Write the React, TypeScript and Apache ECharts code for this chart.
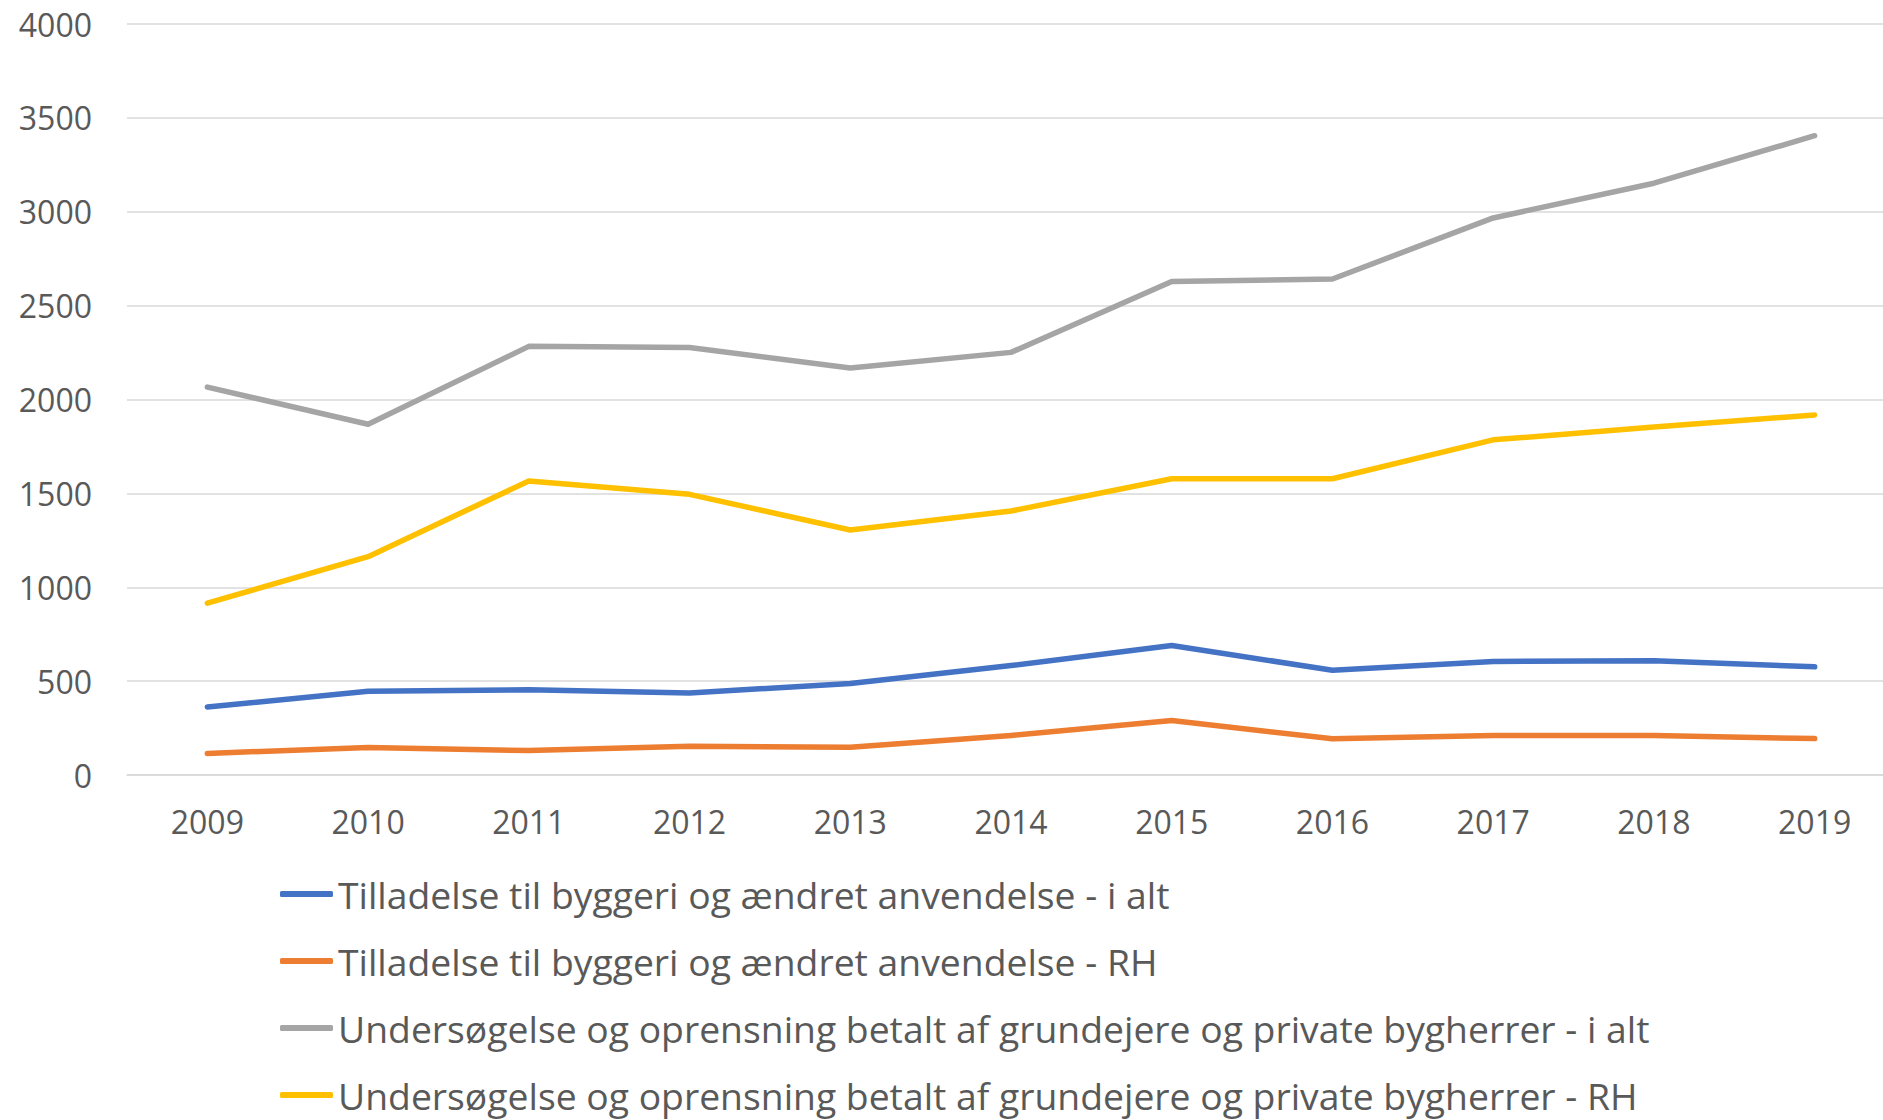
import React, { useEffect, useRef } from "react";
import * as echarts from "echarts";

const years = ["2009", "2010", "2011", "2012", "2013", "2014", "2015", "2016", "2017", "2018", "2019"];
const seriesNames = [
  "Tilladelse til byggeri og ændret anvendelse - i alt",
  "Tilladelse til byggeri og ændret anvendelse - RH",
  "Undersøgelse og oprensning betalt af grundejere og private bygherrer - i alt",
  "Undersøgelse og oprensning betalt af grundejere og private bygherrer - RH",
];
const tilladelseIAlt = [362, 446, 454, 437, 487, 583, 690, 558, 605, 608, 576];
const tilladelseRH = [115, 147, 130, 153, 148, 211, 290, 193, 210, 210, 194];
const undersoegelseIAlt = [2066, 1868, 2283, 2277, 2168, 2251, 2628, 2642, 2967, 3152, 3405];
const undersoegelseRH = [915, 1163, 1566, 1495, 1305, 1406, 1578, 1578, 1785, 1853, 1918];
const colors = ["#4472C4", "#ED7D31", "#A5A5A5", "#FFC000"];

const FONT = "'Open Sans', sans-serif";

export default function App() {
  const ref = useRef<HTMLDivElement>(null);
  useEffect(() => {
    if (!ref.current) return;
    const chart = echarts.init(ref.current, undefined, { renderer: "svg" });
    const data = [tilladelseIAlt, tilladelseRH, undersoegelseIAlt, undersoegelseRH];
    chart.setOption({
      animation: false,
      backgroundColor: "#ffffff",
      textStyle: { fontFamily: FONT },
      grid: { left: 127, top: 24, width: 1768, height: 751, containLabel: false },
      xAxis: {
        type: "category",
        data: years,
        boundaryGap: true,
        axisLine: { show: true, lineStyle: { color: "#D9D9D9", width: 1.5 } },
        axisTick: { show: false },
        axisLabel: { color: "#595959", fontSize: 32, fontFamily: FONT, margin: 30 },
        splitLine: { show: false },
      },
      yAxis: {
        type: "value",
        min: 0,
        max: 4000,
        interval: 500,
        axisLine: { show: false },
        axisTick: { show: false },
        axisLabel: {
          color: "#595959",
          fontSize: 32,
          fontFamily: FONT,
          margin: 35,
          formatter: (v: number) => String(v),
        },
        splitLine: { lineStyle: { color: "#D9D9D9", width: 1.5 } },
      },
      legend: {
        orient: "vertical",
        left: 280,
        top: 874,
        padding: 0,
        itemWidth: 53,
        itemHeight: 6,
        itemGap: 27,
        icon: "roundRect",
        textStyle: { color: "#595959", fontSize: 37.3, fontFamily: FONT, lineHeight: 40 },
        data: seriesNames,
      },
      series: seriesNames.map((name, i) => ({
        name,
        type: "line",
        data: data[i],
        showSymbol: false,
        symbol: "none",
        smooth: false,
        color: colors[i],
        lineStyle: { color: colors[i], width: 5.5, cap: "round", join: "round" },
        itemStyle: { color: colors[i] },
      })),
    });
    return () => chart.dispose();
  }, []);
  return (
    <div style={{ position: "absolute", left: 0, top: 0, width: 1883, height: 1120, overflow: "hidden" }}>
      <div ref={ref} style={{ width: 1900, height: 1120 }} />
    </div>
  );
}
